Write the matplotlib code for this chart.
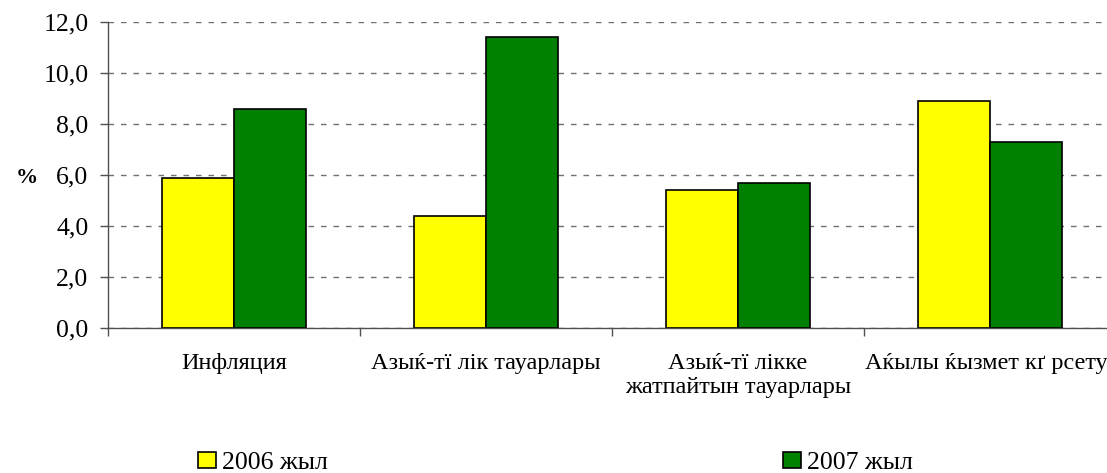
import numpy as np
import matplotlib
matplotlib.use("Agg")
import matplotlib.pyplot as plt
import matplotlib.transforms as mtransforms
from matplotlib.ticker import FuncFormatter, FixedLocator

# %%
# data
categories = [
    "Инфляция",
    "Азыќ-тї лік тауарлары",
    "Азыќ-тї лікке\nжатпайтын тауарлары",
    "Аќылы ќызмет кґ рсету",
]
values_2006 = [5.9, 4.4, 5.4, 8.9]
values_2007 = [8.6, 11.4, 5.7, 7.3]
series_labels = ["2006 жыл", "2007 жыл"]
y_ticks = [0, 2, 4, 6, 8, 10, 12]

plt.rcParams["font.family"] = ["Liberation Serif", "DejaVu Serif"]
fs = 18.5

fig = plt.figure(figsize=(11.07, 4.73), dpi=100)
ax = fig.add_axes([108 / 1107, 145 / 473, 1008 / 1107, 306 / 473])

x = np.arange(len(categories))
w = 72 / 252
ax.bar(x - w / 2, values_2006, w, color="#FFFF00", edgecolor="black",
       linewidth=1.2, label=series_labels[0], zorder=3)
ax.bar(x + w / 2, values_2007, w, color="#008000", edgecolor="black",
       linewidth=1.2, label=series_labels[1], zorder=3)

ax.set_xlim(-0.5, len(categories) - 0.5)
ax.set_ylim(0, 12)
ax.set_yticks(y_ticks)
ax.yaxis.set_major_formatter(FuncFormatter(lambda v, p: f"{v:.1f}".replace(".", ",")))
ax.yaxis.grid(True, color="#707070", linestyle=(0, (4, 5)), linewidth=1.0, zorder=0)

ax.set_xticks(x)
ax.set_xticklabels(categories, fontsize=17.5)
ax.xaxis.set_minor_locator(FixedLocator(np.arange(len(categories)) - 0.5))
ax.tick_params(axis="x", which="major", length=0, pad=18)
ax.tick_params(axis="x", which="minor", length=6, width=1, color="#505050")
ax.tick_params(axis="y", length=6, width=1, color="#505050", labelsize=fs, pad=8)

# the last label runs up to the right edge of the picture; nudge it left a bit
last = ax.get_xticklabels()[-1]
last.set_transform(last.get_transform() +
                   mtransforms.ScaledTranslation(-4 / 100, 0, fig.dpi_scale_trans))

for s in ["top", "right"]:
    ax.spines[s].set_visible(False)
for s in ["left", "bottom"]:
    ax.spines[s].set_color("#505050")
    ax.spines[s].set_linewidth(1.0)

fig.text(27 / 1107, 1 - 178 / 473, "%", fontsize=16, fontweight="bold",
         ha="center", va="center")

fig.legend(loc="center left", bbox_to_anchor=(198 / 1107, 1 - 463 / 473),
           ncol=2, frameon=False, fontsize=fs, handlelength=0.7,
           handleheight=0.6, handletextpad=0.25, columnspacing=17.7,
           borderaxespad=0, borderpad=0)

fig.savefig("out.png", dpi=100)
